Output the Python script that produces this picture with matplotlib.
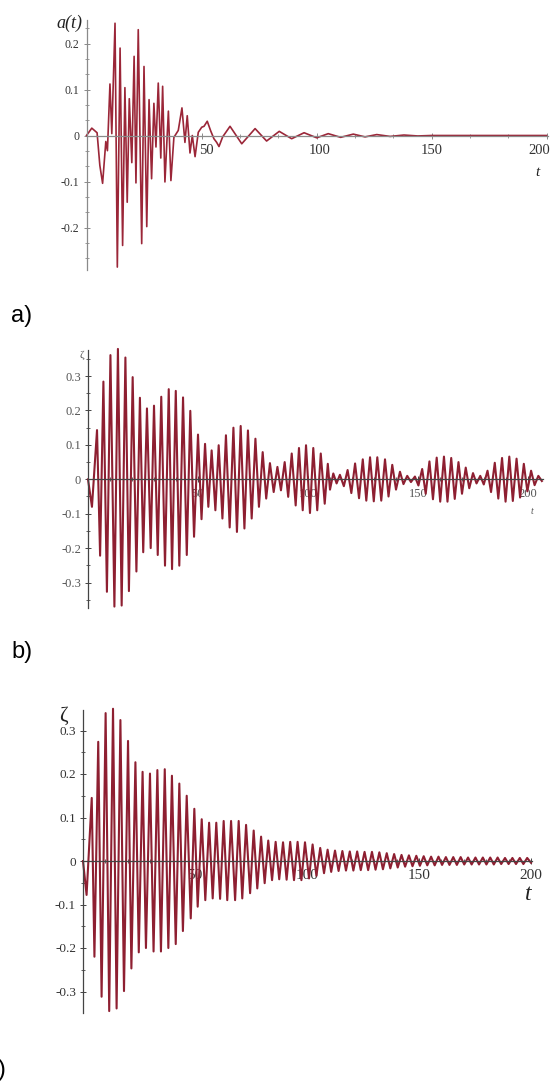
import matplotlib
matplotlib.use('Agg')
import matplotlib.pyplot as plt
import matplotlib.transforms as mtransforms
from matplotlib.ticker import MultipleLocator

W, H = 553, 1083

# panel a: a(t), extrema
a_t = [0, 2.3, 4.6, 5.8, 7.0, 8.4, 9.1, 10.2, 11.0, 12.4, 13.4, 14.6, 15.7, 16.7,
       17.7, 18.6, 19.7, 20.7, 21.5, 22.5, 24.0, 25.0, 26.2, 27.2, 28.3, 29.3,
       30.2, 31.2, 32.3, 33.1, 34.1, 35.6, 36.7, 38.0, 39.9, 41.5, 42.8, 43.8,
       45.0, 46.0, 47.2, 48.6, 50.1, 51.1, 52.5, 54.0, 55.4, 56.6, 57.6, 59.2,
       62.4, 67.5, 73.3, 78.3, 83.8, 89.2, 94.6, 100.1, 105.1, 110.5, 116.0,
       121.1, 126.2, 132.0, 138.0, 144.0, 150.0, 200.0]
a_v = [0, 0.016, 0.006, -0.065, -0.104, -0.013, -0.033, 0.112, 0.004, 0.244,
       -0.286, 0.19, -0.239, 0.104, -0.145, 0.08, -0.059, 0.172, -0.103, 0.23,
       -0.235, 0.15, -0.198, 0.078, -0.094, 0.07, -0.025, 0.114, -0.049, 0.107,
       -0.101, 0.053, -0.098, -0.004, 0.011, 0.06, -0.015, 0.043, -0.038, 0.0,
       -0.046, 0.007, 0.018, 0.02, 0.031, 0.01, -0.007, -0.015, -0.024, -0.003,
       0.02, -0.018, 0.015, -0.012, 0.009, -0.007, 0.006, -0.005, 0.004, -0.004,
       0.003, -0.003, 0.002, -0.002, 0.001, -0.001, 0.0, 0.0]

# panel b: zeta
b_t = [0, 1.8, 4.1, 5.5, 7.0, 8.6, 10.2, 12.0, 13.6, 15.3, 17.0, 18.6, 20.3,
       22.0, 23.6, 25.1, 26.8, 28.5, 30.0, 31.7, 33.3, 35.0, 36.7, 38.2, 39.9,
       41.5, 43.2, 44.9, 46.5, 48.2, 50.0, 51.6, 53.2, 54.7, 56.2, 57.9, 59.4,
       61.1, 62.7, 64.4, 66.1, 67.7, 69.4, 71.1, 72.7, 74.4, 76.1, 77.7, 79.4,
       81.0, 82.7, 84.4, 86.1, 87.7, 89.4, 91.0, 92.6, 94.4, 95.9, 97.6, 99.1,
       100.9, 102.4, 104.2, 105.8, 107.6, 109.0, 110.0, 111.5, 113.0, 114.5,
       116.3, 118.0, 119.7, 121.4, 123.2, 124.9, 126.5, 128.2, 129.9, 131.5,
       133.3, 135.0, 136.6, 138.3, 140.0, 141.8, 143.4, 145.1, 146.8, 148.6,
       150.2, 151.9, 153.5, 155.2, 156.8, 158.5, 160.1, 161.8, 163.4, 165.1,
       166.7, 168.4, 170.0, 171.7, 173.3, 175.0, 176.6, 178.3, 179.9, 181.6,
       183.2, 184.9, 186.5, 188.2, 189.8, 191.5, 193.1, 194.8, 196.4, 198.1,
       199.7, 201.4, 203.0, 204.7, 206.3]
b_v = [0, -0.08, 0.143, -0.222, 0.284, -0.327, 0.361, -0.37, 0.379, -0.367,
       0.354, -0.325, 0.297, -0.268, 0.237, -0.212, 0.206, -0.2, 0.214, -0.22,
       0.24, -0.251, 0.262, -0.261, 0.257, -0.251, 0.238, -0.22, 0.199, -0.167,
       0.13, -0.116, 0.103, -0.08, 0.084, -0.09, 0.099, -0.114, 0.128, -0.14,
       0.15, -0.153, 0.155, -0.143, 0.142, -0.114, 0.118, -0.08, 0.079, -0.056,
       0.047, -0.037, 0.036, -0.032, 0.05, -0.051, 0.075, -0.076, 0.091, -0.09,
       0.099, -0.098, 0.091, -0.09, 0.075, -0.071, 0.045, -0.03, 0.017, -0.012,
       0.013, -0.02, 0.027, -0.04, 0.046, -0.055, 0.058, -0.062, 0.064, -0.064,
       0.064, -0.062, 0.058, -0.05, 0.042, -0.03, 0.022, -0.014, 0.01, -0.008,
       0.008, -0.018, 0.03, -0.042, 0.052, -0.058, 0.063, -0.065, 0.066, -0.065,
       0.062, -0.057, 0.05, -0.042, 0.034, -0.026, 0.018, -0.012, 0.01, -0.015,
       0.025, -0.037, 0.048, -0.056, 0.062, -0.065, 0.066, -0.063, 0.06, -0.053,
       0.045, -0.035, 0.025, -0.017, 0.01, -0.005]

# panel c: zeta
c_t = [0, 1.6, 3.9, 5.1, 6.8, 8.3, 10.1, 11.7, 13.4, 15.0, 16.7, 18.3, 20.1,
       21.6, 23.4, 24.9, 26.6, 28.1, 29.9, 31.5, 33.2, 34.8, 36.5, 38.1, 39.7,
       41.4, 43.0, 44.6, 46.3, 48.1, 49.7, 51.2, 53.0, 54.6, 56.3, 57.9, 59.5,
       61.2, 62.8, 64.4, 66.1, 67.9, 69.5, 71.1, 72.8, 74.6, 76.2, 77.8, 79.5,
       81.1, 82.7, 84.4, 86.0, 87.6, 89.3, 90.9, 92.5, 94.2, 95.8, 97.5, 99.1,
       100.9, 102.5, 104.2, 105.9, 107.6, 109.2, 110.8, 112.5, 114.1, 115.8,
       117.4, 119.1, 120.7, 122.4, 124.0, 125.7, 127.3, 129.0, 130.6, 132.3,
       133.9, 135.6, 137.2, 138.9, 140.5, 142.2, 143.8, 145.5, 147.1, 148.8,
       150.4, 152.1, 153.7, 155.4, 157.0, 158.7, 160.3, 162.0, 163.6, 165.3,
       166.9, 168.6, 170.2, 171.9, 173.5, 175.2, 176.8, 178.5, 180.1, 181.8,
       183.4, 185.1, 186.7, 188.4, 190.0, 191.7, 193.3, 195.0, 196.6, 198.3,
       200.0]
c_v = [0, -0.078, 0.145, -0.22, 0.274, -0.312, 0.34, -0.345, 0.35, -0.339,
       0.324, -0.299, 0.276, -0.247, 0.227, -0.21, 0.205, -0.2, 0.201, -0.208,
       0.209, -0.208, 0.211, -0.2, 0.196, -0.191, 0.178, -0.161, 0.15, -0.132,
       0.12, -0.105, 0.096, -0.09, 0.088, -0.086, 0.088, -0.087, 0.092, -0.09,
       0.092, -0.09, 0.092, -0.086, 0.083, -0.074, 0.07, -0.063, 0.056, -0.051,
       0.047, -0.044, 0.044, -0.042, 0.043, -0.043, 0.044, -0.044, 0.044, -0.044,
       0.043, -0.04, 0.038, -0.034, 0.03, -0.028, 0.026, -0.025, 0.024, -0.023,
       0.023, -0.022, 0.022, -0.022, 0.022, -0.021, 0.021, -0.021, 0.021, -0.02,
       0.02, -0.019, 0.018, -0.017, 0.016, -0.015, 0.014, -0.013, 0.013, -0.012,
       0.012, -0.011, 0.011, -0.01, 0.01, -0.01, 0.01, -0.009, 0.009, -0.009,
       0.009, -0.009, 0.009, -0.008, 0.008, -0.008, 0.008, -0.008, 0.008, -0.008,
       0.008, -0.008, 0.008, -0.007, 0.007, -0.007, 0.007, -0.007, 0.007, -0.007,
       0.007, -0.004]

x_ticks = [50, 100, 150, 200]
x_labels = ['50', '100', '150', '200']
a_yticks = [-0.2, -0.1, 0, 0.1, 0.2]
a_ylabels = ['-0.2', '-0.1', '0', '0.1', '0.2']
bc_yticks = [-0.3, -0.2, -0.1, 0, 0.1, 0.2, 0.3]
bc_ylabels = ['-0.3', '-0.2', '-0.1', '0', '0.1', '0.2', '0.3']

SERIF = 'Liberation Serif'
LINE = '#8e1f31'

fig = plt.figure(figsize=(W / 100, H / 100), dpi=100)


def panel(x0, px_t, t_max, y0, px_v, v_top, v_bot):
    # place axes from pixel geometry of the reference
    top = y0 - v_top * px_v
    bot = y0 - v_bot * px_v
    ax = fig.add_axes([x0 / W, 1 - bot / H, t_max * px_t / W, (bot - top) / H])
    ax.set_xlim(0, t_max)
    ax.set_ylim(v_bot, v_top)
    ax.patch.set_alpha(0)
    for s in ['top', 'right']:
        ax.spines[s].set_visible(False)
    ax.spines['left'].set_position(('data', 0))
    ax.spines['bottom'].set_position(('data', 0))
    return ax


def style(ax, axis_col, ysize, xsize, yminor, xminor, label_col):
    for s in ['left', 'bottom']:
        ax.spines[s].set_color(axis_col)
        ax.spines[s].set_linewidth(0.9)
    ax.xaxis.set_minor_locator(MultipleLocator(xminor))
    ax.yaxis.set_minor_locator(MultipleLocator(yminor))
    ax.tick_params(which='major', direction='inout', length=4, width=0.7, color=axis_col)
    ax.tick_params(which='minor', direction='inout', length=3, width=0.6, color=axis_col)
    ax.tick_params(axis='y', pad=3)
    ax.tick_params(axis='x', pad=4)
    for lab in ax.get_yticklabels():
        lab.set_fontfamily(SERIF)
        lab.set_fontsize(ysize)
        lab.set_color(label_col)
    for lab in ax.get_xticklabels():
        lab.set_fontfamily(SERIF)
        lab.set_fontsize(xsize)
        lab.set_color(label_col)


# a)
ax = panel(86.5, 2.3, 200.6, 135.5, 460, 0.251, -0.292)
ax.plot(a_t, a_v, color='#9b2638', lw=1.2, clip_on=False)
ax.set_xticks(x_ticks, x_labels)
ax.set_yticks(a_yticks, a_ylabels)
style(ax, '#8a8a8a', 8.5, 10.5, 0.1 / 3, 50 / 3, '#333333')
# the reference nudges its tick labels a little; keep "200" inside the frame
shift = [5, 3, 0, -7]
for lab, dx in zip(ax.get_xticklabels(), shift):
    lab.set_transform(lab.get_transform() +
                      mtransforms.ScaledTranslation(dx / 100, 0, fig.dpi_scale_trans))

# b)
ax = panel(88, 2.2, 206.8, 479.3, 344, 0.376, -0.373)
ax.plot(b_t, b_v, color=LINE, lw=1.5, clip_on=False)
ax.set_xticks(x_ticks, x_labels)
ax.set_yticks(bc_yticks, bc_ylabels)
style(ax, '#444444', 9, 9, 0.05, 10, '#555555')

# c)
ax = panel(83, 2.24, 200.5, 861, 435, 0.347, -0.349)
ax.plot(c_t, c_v, color=LINE, lw=1.5, clip_on=False)
ax.set_xticks(x_ticks, x_labels)
ax.set_yticks(bc_yticks, bc_ylabels)
style(ax, '#444444', 9.5, 11, 0.05, 10, '#333333')


def ftext(x, y, s, **kw):
    fig.text(x / W, 1 - y / H, s, ha='center', va='center', **kw)


ftext(69, 23, 'a(t)', family=SERIF, style='italic', fontsize=13, color='#222222')
ftext(537, 172, 't', family=SERIF, style='italic', fontsize=11, color='#222222')
ftext(82, 355, 'ζ', family=SERIF, fontsize=8, color='#555555')
ftext(532, 512, 't', family=SERIF, style='italic', fontsize=7, color='#555555')
ftext(63, 716, 'ζ', family=SERIF, fontsize=15, color='#222222')
ftext(528, 895, 't', family=SERIF, style='italic', fontsize=17, color='#222222')

ftext(22, 316, 'a)', family='Liberation Sans', fontsize=17, color='black')
ftext(22, 652, 'b)', family='Liberation Sans', fontsize=17, color='black')
# only the closing bracket of "c)" is inside the reference frame
ftext(-4, 1070, 'c)', family='Liberation Sans', fontsize=17, color='black')

fig.savefig('out.png', dpi=100)
